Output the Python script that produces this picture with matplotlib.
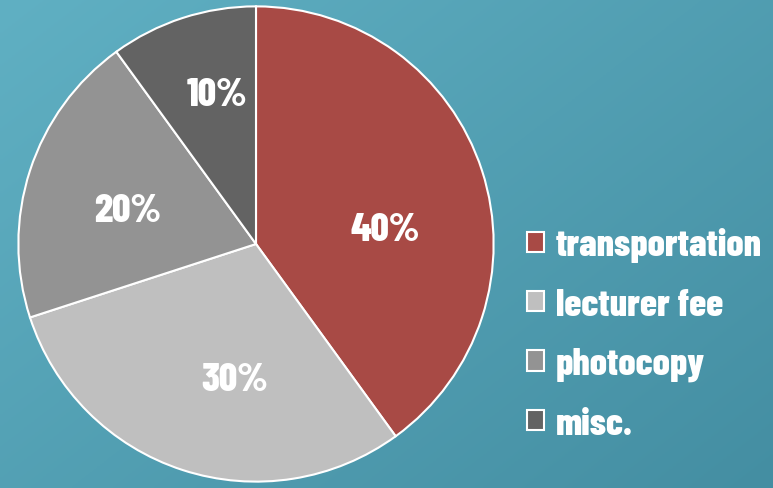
import matplotlib
matplotlib.use("Agg")
import matplotlib.pyplot as plt
import numpy as np
from matplotlib.patches import Patch

categories = ["transportation", "lecturer fee", "photocopy", "misc."]
values = [40, 30, 20, 10]
colors = ["#a84a45", "#bfbfbf", "#939393", "#636363"]

font = ["Barlow Condensed", "DejaVu Sans"]

fig = plt.figure(figsize=(7.73, 4.89), dpi=100)

# background gradient
bg = fig.add_axes([0, 0, 1, 1])
gx = np.linspace(0, 1, 200)
gy = np.linspace(0, 1, 200)
X, Y = np.meshgrid(gx, gy)
t = 0.55 * X + 0.45 * Y
c0 = np.array([0x60, 0xb0, 0xc3]) / 255
c1 = np.array([0x44, 0x8e, 0xa2]) / 255
img = c0[None, None, :] * (1 - t[..., None]) + c1[None, None, :] * t[..., None]
bg.imshow(img, extent=[0, 1, 0, 1], aspect="auto", origin="upper")
bg.axis("off")

W, H = 773, 489
cx, cy, r = 256, 245, 240
ax = fig.add_axes([(cx - r) / W, (H - cy - r) / H, 2 * r / W, 2 * r / H])
wedges, texts, autotexts = ax.pie(
    values, colors=colors, startangle=90, counterclock=False,
    autopct="%d%%", pctdistance=0.6, radius=1.0,
    wedgeprops=dict(edgecolor="white", linewidth=1.5),
    textprops=dict(color="white", fontsize=29, fontweight=800, family=font),
)
ax.set_xlim(-1.01, 1.01)
ax.set_ylim(-1.01, 1.01)
ax.set_aspect("equal")

# fine-tune label placement (layout only)
nudges = [(-0.025, -0.125), (0.095, 0.0), (0.03, -0.045), (0.02, 0.06)]
for at, (dx, dy) in zip(autotexts, nudges):
    x, y = at.get_position()
    at.set_position((x + dx, y + dy))

handles = [Patch(facecolor=c, edgecolor="white", linewidth=1.5) for c in colors]
leg = fig.legend(
    handles, categories, loc="center left", bbox_to_anchor=(527 / W, 1 - 335 / H),
    frameon=False, handlelength=0.45, handleheight=0.45, handletextpad=0.3,
    labelspacing=0.66, borderaxespad=0, borderpad=0,
    prop=dict(family=font, size=27.5, weight=800),
)
for txt in leg.get_texts():
    txt.set_color("white")

fig.savefig("out.png", dpi=100)
